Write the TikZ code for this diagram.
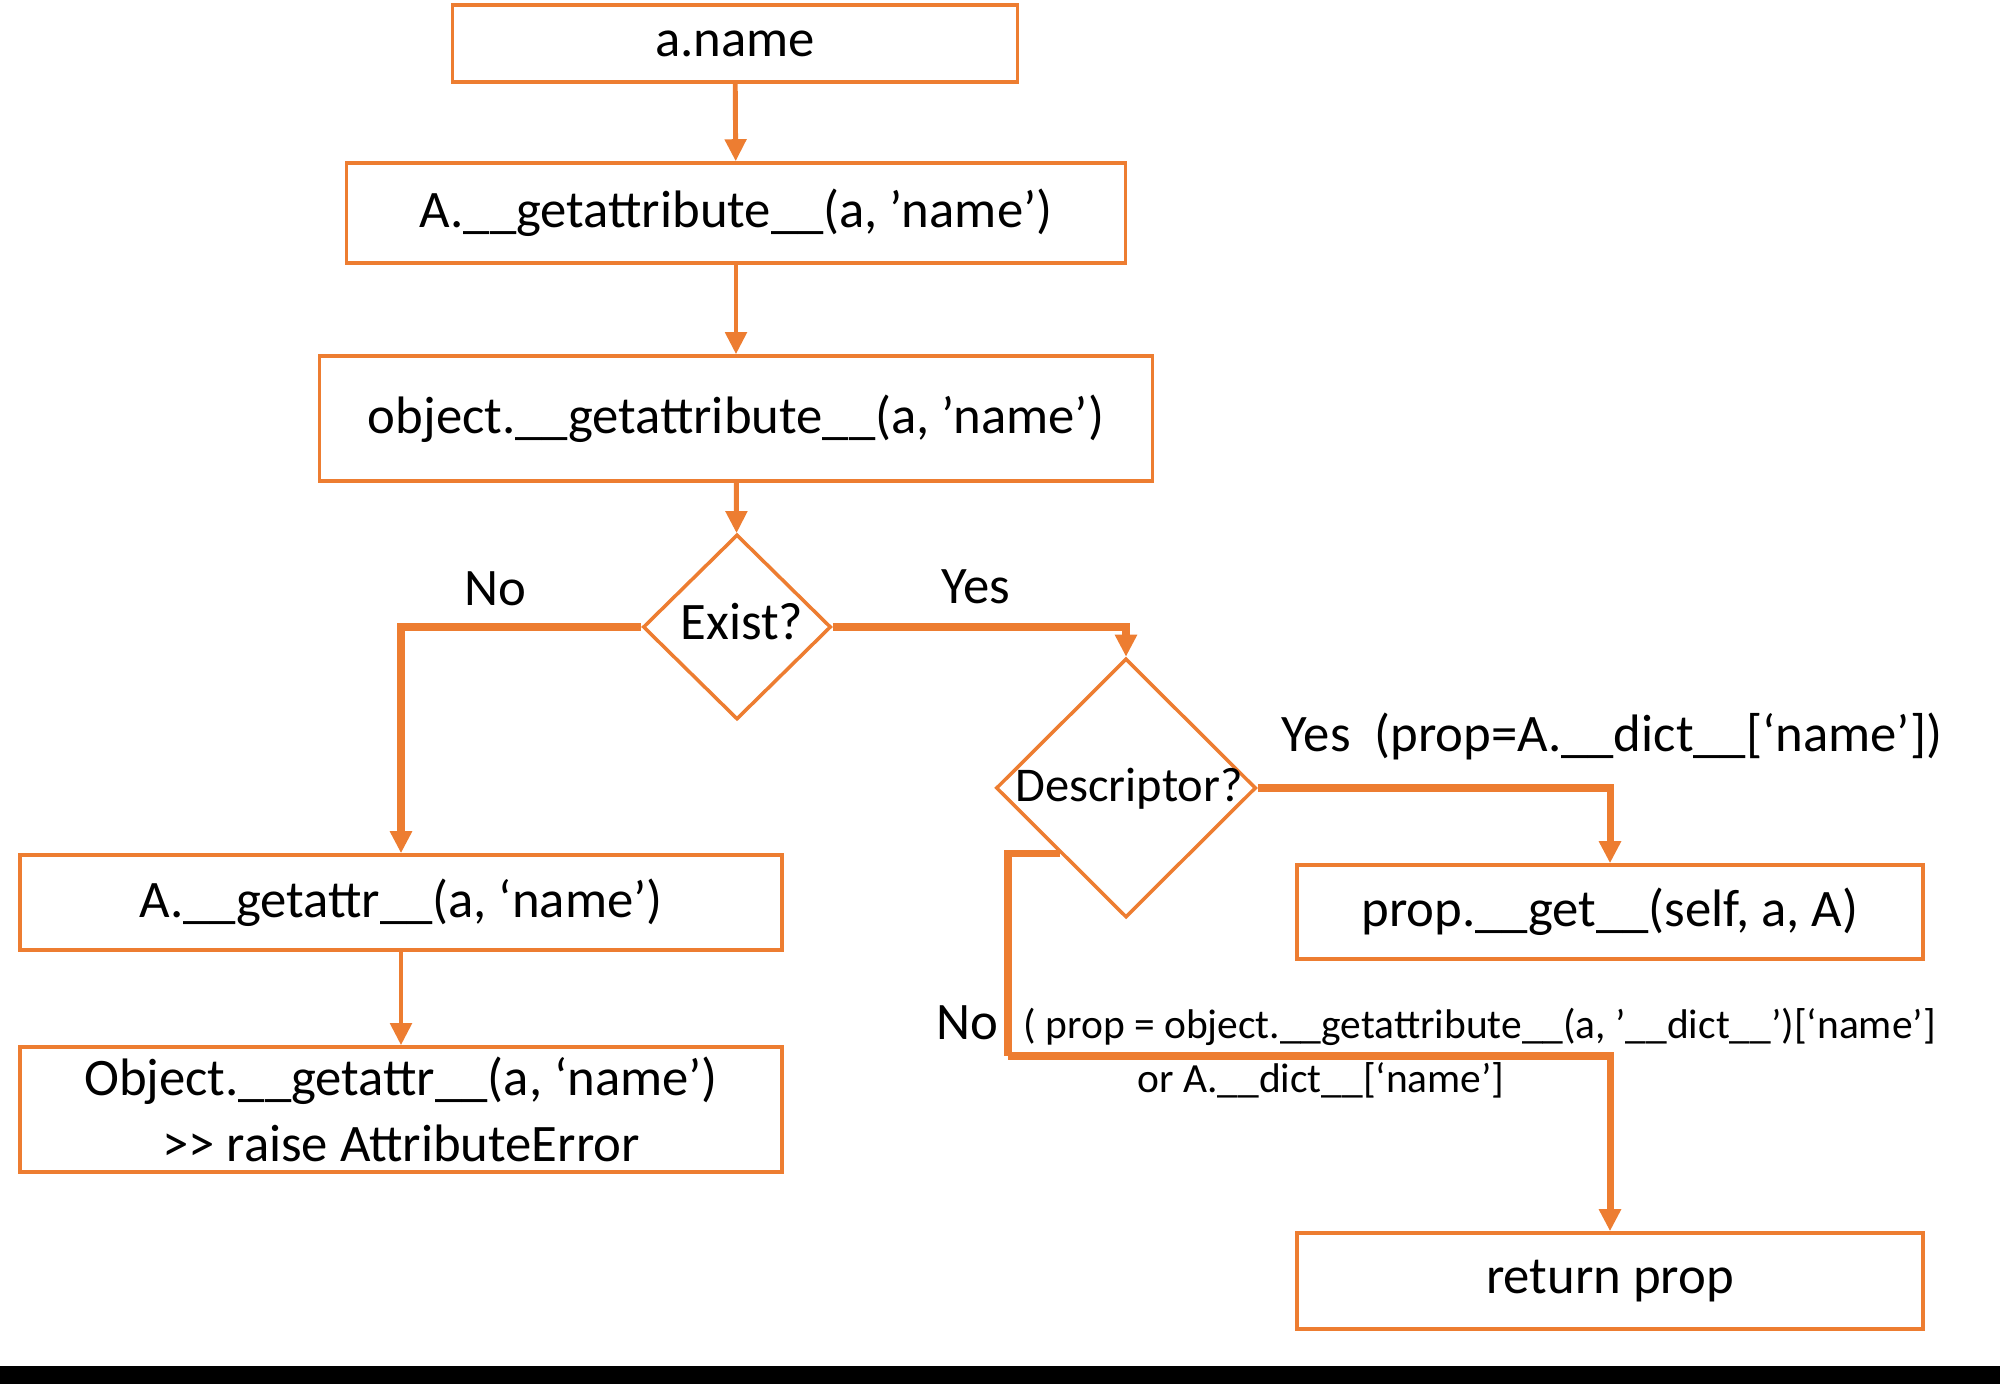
\documentclass[tikz,border=0pt]{standalone}
\usepackage{fontspec}
\setmainfont{Carlito}
\usetikzlibrary{arrows.meta,shapes.geometric}
\definecolor{flow}{HTML}{ED7D31}
\newcommand{\dus}{\_\_}

\begin{document}
\begin{tikzpicture}[
    box/.style={draw=flow,line width=1pt,inner sep=0pt,font=\fontsize{15}{19}\selectfont,align=center},
    decide/.style={diamond,draw=flow,line width=1pt,inner sep=0pt,aspect=1},
    lbl/.style={inner sep=0pt,font=\fontsize{15}{18}\selectfont},
    note/.style={inner sep=0pt,font=\fontsize{11.8}{14}\selectfont},
    link/.style={flow,line width=1.4pt,-{Triangle[length=2.2mm,width=2.1mm]}},
    branch/.style={flow,line width=2pt,-{Triangle[length=2.2mm,width=2.1mm]}}]
  \useasboundingbox (0,0) rectangle (20,-13.84);

  % main chain down the middle
  \node[box,minimum width=5.65cm,minimum height=0.77cm] (aname) at (7.35,-0.435) {a.name};
  \node[box,minimum width=7.79cm,minimum height=1.0cm] (getA) at (7.36,-2.13) {A.\dus getattribute\dus(a, ’name’)};
  \node[box,minimum width=8.33cm,minimum height=1.25cm] (getobj) at (7.36,-4.185) {object.\dus getattribute\dus(a, ’name’)};
  \node[decide,minimum width=1.88cm,minimum height=1.85cm] (exist) at (7.37,-6.27) {};
  \node[lbl] (existtx) at (7.42,-6.22) {Exist?};

  % left branch: attribute missing
  \node[box,minimum width=7.62cm,minimum height=0.95cm] (getattr) at (4.01,-9.025) {A.\dus getattr\dus(a, ‘name’)};
  \node[box,minimum width=7.62cm,minimum height=1.25cm] (objattr) at (4.01,-11.095)
       {Object.\dus getattr\dus(a, ‘name’)\\\mbox{>}\mbox{>} raise AttributeError};

  % right branch: descriptor test
  \node[decide,minimum width=2.6cm,minimum height=2.59cm] (desc) at (11.26,-7.88) {};
  \node[lbl,font=\fontsize{13.8}{16}\selectfont] (desctx) at (11.29,-7.89) {Descriptor?};
  \node[box,minimum width=6.26cm,minimum height=0.94cm] (propget) at (16.10,-9.12) {prop.\dus get\dus(self, a, A)};
  \node[box,minimum width=6.26cm,minimum height=0.96cm] (ret) at (16.10,-12.81) {return prop};
  \coordinate (nobend) at (10.08,-10.56);

  \draw[link] (aname) -- (getA);
  \draw[link] (getA) -- (getobj);
  \draw[link] (getobj) -- (exist);
  \draw[branch] (exist.west) -| (getattr.north);
  \draw[branch] (exist.east) -| (desc.north);
  \draw[link] (getattr) -- (objattr);
  \draw[branch] (desc.east) -| (propget.north);
  \draw[branch,-] (desc.south west) -| (nobend);
  \draw[branch] (nobend) -| (ret.north);

  % branch labels
  \node[lbl] (nolbl) at (4.95,-5.89) {No};
  \node[lbl] (yeslbl) at (9.76,-5.87) {Yes};
  \node[lbl] (dyeslbl) at (16.12,-7.36) {Yes\ \ (prop=A.\dus dict\dus[‘name’])};
  \node[lbl] (dnolbl) at (9.67,-10.23) {No};
  \node[note,anchor=west] (dnonote) at (10.23,-10.27) {( prop = object.\dus getattribute\dus(a, ’\dus dict\dus’)[‘name’]};
  \node[note] (dnonote2) at (13.21,-10.80) {or A.\dus dict\dus[‘name’]};

  \fill[black] (0,-13.66) rectangle (20,-13.84);
\end{tikzpicture}
\end{document}
